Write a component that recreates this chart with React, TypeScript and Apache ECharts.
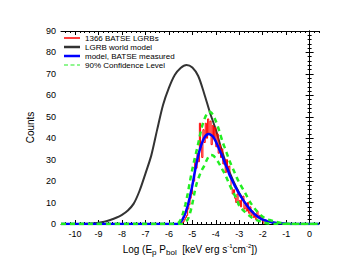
import React, { useEffect, useRef } from "react";
import * as echarts from "echarts";

// Histogram: 1366 BATSE LGRBs, bin left edges (width 0.05)
const histEdges = [
  -5.5, -5.45, -5.4, -5.35, -5.3, -5.25, -5.2, -5.15, -5.1, -5.05, -5.0, -4.95, -4.9, -4.85, -4.8, -4.75,
  -4.7, -4.65, -4.6, -4.55, -4.5, -4.45, -4.4, -4.35, -4.3, -4.25, -4.2, -4.15, -4.1, -4.05, -4.0, -3.95,
  -3.9, -3.85, -3.8, -3.75, -3.7, -3.65, -3.6, -3.55, -3.5, -3.45, -3.4, -3.35, -3.3, -3.25, -3.2, -3.15,
  -3.1, -3.05, -3.0, -2.95, -2.9, -2.85, -2.8, -2.75, -2.7, -2.65, -2.6, -2.55, -2.5, -2.45, -2.4, -2.35,
  -2.3, -2.25, -2.2, -2.15, -2.1, -2.05, -2.0, -1.95,
];
const histCounts = [
  0, 0.5, 1, 2, 3, 4, 7, 9, 12, 14, 19, 20, 30, 26, 33, 29,
  47, 36, 31, 44, 38, 47, 40, 49, 42, 48, 37, 46, 40, 45, 36, 42,
  33, 37, 31, 35, 28, 30, 24, 30, 26, 27, 22, 17, 14, 16, 12, 10,
  14, 9, 11, 8, 12, 13, 7, 9, 6, 10, 5, 8, 4, 6, 3, 4,
  2, 6, 3, 4, 2, 3, 1, 0,
];

// LGRB world model
const worldX = [-10.6, -10, -9.5, -9, -8.75, -8.5, -8.25, -8, -7.75, -7.5, -7.25, -7, -6.75, -6.5, -6.25, -6, -5.75, -5.5, -5.25, -5, -4.75, -4.5, -4.25, -4, -3.75, -3.5, -3.25, -3, -2.75, -2.5, -2.25, -2, -1.75, -1.5, -1.25, -1, 0.4];
const worldY = [0, 0, 0.1, 0.6, 1.1, 1.9, 2.9, 4.3, 6.3, 9.5, 15.5, 23.5, 32, 44, 55.5, 63.5, 69.5, 72.8, 74.2, 73, 69, 61, 52, 44, 34.5, 26.5, 20, 14.5, 9.8, 6.3, 3.7, 2, 1.2, 0.6, 0.3, 0.1, 0];

// model, BATSE measured
const measX = [-10.6, -5.6, -5.5, -5.4, -5.3, -5.2, -5.1, -5, -4.9, -4.8, -4.7, -4.6, -4.5, -4.4, -4.3, -4.2, -4.1, -4, -3.9, -3.8, -3.7, -3.6, -3.5, -3.4, -3.3, -3.2, -3.1, -3, -2.9, -2.75, -2.5, -2.25, -2, -1.75, -1.5, -1.25, -1, -0.75, 0.4];
const measY = [0, 0, 0.8, 2.5, 5, 8.5, 13, 18, 24, 29.5, 34, 37.5, 40, 41.5, 42, 41.5, 40.5, 38.5, 36, 33.5, 31, 28, 25.5, 22.5, 20.3, 18, 16, 14, 12.3, 9.8, 6.3, 3.7, 2, 1.2, 0.6, 0.3, 0.1, 0, 0];

// 90% confidence level (upper, lower)
const upX = [-10.6, -5.7, -5.6, -5.5, -5.4, -5.3, -5.2, -5.1, -5, -4.9, -4.8, -4.7, -4.6, -4.5, -4.4, -4.3, -4.2, -4.1, -4, -3.9, -3.8, -3.7, -3.6, -3.5, -3.4, -3.3, -3.2, -3.1, -3, -2.75, -2.5, -2.25, -2, -1.75, -1.5, -1.25, -1, -0.75, 0.4];
const upY = [0, 0, 0.5, 2, 5, 9, 14, 20, 25.5, 30.5, 35, 40, 45, 48.5, 51, 52.5, 52, 50.5, 48, 45, 41.5, 38, 35, 32, 29, 26.5, 24, 21.5, 19.3, 14.5, 9.6, 6, 3.4, 2, 1.2, 0.6, 0.2, 0, 0];
const loX = [-10.6, -5.45, -5.4, -5.3, -5.2, -5.1, -5, -4.9, -4.8, -4.7, -4.6, -4.5, -4.4, -4.3, -4.2, -4.1, -4, -3.9, -3.8, -3.7, -3.6, -3.5, -3.4, -3.3, -3.2, -3.1, -3, -2.75, -2.5, -2.25, -2, -1.75, -1.5, 0.4];
const loY = [0, 0, 0.3, 1, 2, 5, 9.5, 15, 19.5, 22.5, 25, 27, 29.5, 31.5, 32.2, 31.8, 30.5, 29, 27, 25, 23, 20.5, 18, 15.5, 13.5, 11.5, 8.5, 5.5, 3.3, 1.8, 0.8, 0.2, 0, 0];

const legendNames = ["1366 BATSE LGRBs", "LGRB world model", "model, BATSE measured", "90% Confidence Level"];

const xMajor = [-10, -9, -8, -7, -6, -5, -4, -3, -2, -1, 0];
const xMinor: number[] = [];
for (let i = -52; i <= 2; i++) xMinor.push(Math.round(i * 2) / 10);

const zip = (xs: number[], ys: number[]) => xs.map((x, i) => [x, ys[i]]);

export default function App() {
  const ref = useRef<HTMLDivElement>(null);
  useEffect(() => {
    if (!ref.current) return;
    const chart = echarts.init(ref.current, null, { renderer: "svg" });
    const font = "Liberation Sans, Arial, sans-serif";
    const histData = histEdges.map((x, i) => [x, histCounts[i]]);
    const baseX = (pos: "bottom" | "top", ticks: number[], len: number, showLine: boolean, labels: boolean, name?: boolean) => ({
      type: "value",
      position: pos,
      min: -10.6,
      max: 0.4,
      axisLine: { show: showLine, onZero: false, lineStyle: { color: "#000", width: 1 } },
      axisTick: { show: true, inside: true, length: len, customValues: ticks, lineStyle: { color: "#000", width: 1 } },
      axisLabel: labels
        ? { show: true, customValues: xMajor, color: "#000", fontSize: 9, fontFamily: font, margin: 5 }
        : { show: false },
      splitLine: { show: false },
      ...(name
        ? {
            name: "{a|Log (E}{sub|p}{a| P}{sub|bol}{a|  [keV erg s}{sup|-1}{a|cm}{sup|-2}{a|])}",
            nameLocation: "middle",
            nameGap: 17,
            nameTextStyle: {
              color: "#000",
              fontFamily: font,
              rich: {
                a: { fontSize: 10, color: "#000", fontFamily: font },
                sub: { fontSize: 8, color: "#000", fontFamily: font, padding: [6, 0, 0, 0] },
                sup: { fontSize: 6, color: "#000", fontFamily: font, padding: [0, 0, 7, 0] },
              },
            },
          }
        : {}),
    });
    const baseY = (pos: "left" | "right", labels: boolean) => ({
      type: "value",
      position: pos,
      min: 0,
      max: 90,
      interval: 10,
      axisLine: { show: true, lineStyle: { color: "#000", width: 1 } },
      axisTick: { show: true, inside: true, length: 4, lineStyle: { color: "#000" } },
      minorTick: { show: true, splitNumber: 5, length: 2, lineStyle: { color: "#000" } },
      axisLabel: labels ? { show: true, color: "#000", fontSize: 9, fontFamily: font, margin: 5 } : { show: false },
      splitLine: { show: false },
      ...(labels
        ? {
            name: "Counts",
            nameLocation: "middle",
            nameGap: 26,
            nameTextStyle: { color: "#000", fontSize: 10, fontFamily: font },
          }
        : {}),
    });
    const green = "#22ee22";
    chart.setOption({
      animation: false,
      backgroundColor: "#fff",
      grid: { left: 61, right: 22, top: 31, bottom: 40 },
      legend: {
        orient: "vertical",
        left: 64,
        top: 34,
        padding: 0,
        itemGap: 1,
        itemWidth: 16,
        itemHeight: 2.5,
        textStyle: { fontSize: 8, fontFamily: font, color: "#000", lineHeight: 8 },
        data: [
          { name: legendNames[0], icon: "path://M0,0h16v0.02h-16z M0,0.6h16v1.4h-16z M0,2.48h16v0.02h-16z" },
          { name: legendNames[1], icon: "rect" },
          { name: legendNames[2], icon: "rect" },
          { name: legendNames[3], icon: "path://M0,0h4v1h-4z M6.5,0h4v1h-4z M13,0h3v1h-3z" },
        ],
      },
      xAxis: [
        baseX("bottom", xMajor, 4, true, true, true),
        baseX("bottom", xMinor, 2, false, false),
        baseX("top", xMajor, 4, true, false),
        baseX("top", xMinor, 2, false, false),
      ],
      yAxis: [baseY("left", true), baseY("right", false)],
      series: [
        {
          name: legendNames[1],
          type: "line",
          data: zip(worldX, worldY),
          symbol: "none",
          smooth: 0.3,
          lineStyle: { color: "#333333", width: 2 },
          itemStyle: { color: "#333333" },
          z: 2,
        },
        {
          name: legendNames[0],
          type: "line",
          step: "end",
          data: histData,
          symbol: "none",
          lineStyle: { color: "#ff0000", width: 1 },
          itemStyle: { color: "#ff0000" },
          z: 3,
        },
        {
          name: legendNames[2],
          type: "line",
          data: zip(measX, measY),
          symbol: "none",
          smooth: 0.3,
          lineStyle: { color: "#0000ff", width: 2.5 },
          itemStyle: { color: "#0000ff" },
          z: 4,
        },
        {
          name: legendNames[3],
          type: "line",
          data: zip(upX, upY),
          symbol: "none",
          smooth: 0.3,
          lineStyle: { color: green, width: 2.5, type: [5, 4] },
          itemStyle: { color: green },
          z: 5,
        },
        {
          name: legendNames[3],
          type: "line",
          data: zip(loX, loY),
          symbol: "none",
          smooth: 0.3,
          lineStyle: { color: green, width: 2.5, type: [5, 4] },
          itemStyle: { color: green },
          z: 5,
        },
      ],
    });
    return () => chart.dispose();
  }, []);
  return <div ref={ref} style={{ width: 341, height: 264, position: "absolute", left: 0, top: 0 }} />;
}
